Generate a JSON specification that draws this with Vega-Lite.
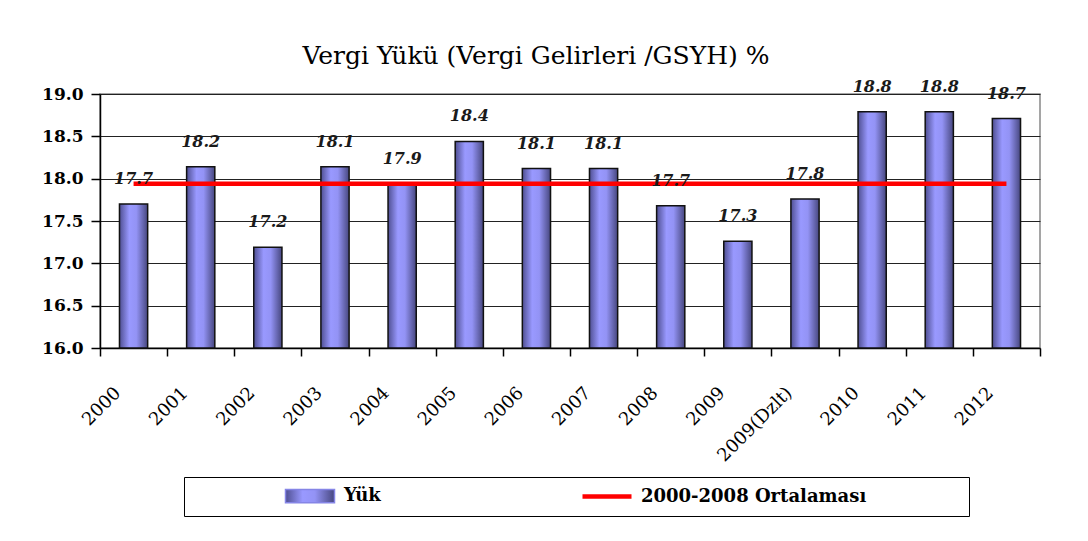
{
  "$schema": "https://vega.github.io/schema/vega-lite/v6.json",
  "width": 940,
  "height": 254,
  "autosize": "none",
  "padding": {"left": 100, "top": 94, "right": 48, "bottom": 193},
  "background": "white",
  "title": {
    "text": "Vergi Yükü (Vergi Gelirleri /GSYH) %",
    "font": "DejaVu Serif",
    "fontSize": 25,
    "fontWeight": "normal",
    "color": "#000000",
    "anchor": "middle",
    "dx": -34,
    "offset": 10
  },
  "data": {
    "values": [
      {"yil": "2000", "yuk": 17.70, "etiket": "17.7", "ort": 17.94},
      {"yil": "2001", "yuk": 18.14, "etiket": "18.2", "ort": 17.94},
      {"yil": "2002", "yuk": 17.19, "etiket": "17.2", "ort": 17.94},
      {"yil": "2003", "yuk": 18.14, "etiket": "18.1", "ort": 17.94},
      {"yil": "2004", "yuk": 17.94, "etiket": "17.9", "ort": 17.94},
      {"yil": "2005", "yuk": 18.44, "etiket": "18.4", "ort": 17.94},
      {"yil": "2006", "yuk": 18.12, "etiket": "18.1", "ort": 17.94},
      {"yil": "2007", "yuk": 18.12, "etiket": "18.1", "ort": 17.94},
      {"yil": "2008", "yuk": 17.68, "etiket": "17.7", "ort": 17.94},
      {"yil": "2009", "yuk": 17.26, "etiket": "17.3", "ort": 17.94},
      {"yil": "2009(Dzlt)", "yuk": 17.76, "etiket": "17.8", "ort": 17.94},
      {"yil": "2010", "yuk": 18.79, "etiket": "18.8", "ort": 17.94},
      {"yil": "2011", "yuk": 18.79, "etiket": "18.8", "ort": 17.94},
      {"yil": "2012", "yuk": 18.71, "etiket": "18.7", "ort": 17.94}
    ]
  },
  "encoding": {
    "x": {
      "field": "yil",
      "type": "nominal",
      "sort": null,
      "title": null,
      "scale": {"paddingInner": 0, "paddingOuter": 0},
      "axis": {
        "labelAngle": -45,
        "labelAlign": "right",
        "labelBaseline": "middle",
        "labelFont": "DejaVu Serif",
        "labelFontSize": 18,
        "labelColor": "#000000",
        "labelPadding": 34,
        "labelOffset": -16,
        "tickBand": "extent",
        "tickSize": 8,
        "tickColor": "#000000",
        "tickWidth": 1.5,
        "domainColor": "#000000",
        "domainWidth": 1.5,
        "grid": false
      }
    }
  },
  "layer": [
    {
      "mark": {
        "type": "bar",
        "width": {"band": 0.42},
        "stroke": "#111111",
        "strokeWidth": 1.5,
        "fill": {
          "gradient": "linear",
          "x1": 0, "y1": 0, "x2": 1, "y2": 0,
          "stops": [
            {"offset": 0, "color": "#4f4f92"},
            {"offset": 0.35, "color": "#9999ff"},
            {"offset": 0.6, "color": "#9393f5"},
            {"offset": 1, "color": "#47477f"}
          ]
        }
      },
      "encoding": {
        "y": {
          "field": "yuk",
          "type": "quantitative",
          "title": null,
          "scale": {"domain": [16, 19], "zero": false, "nice": false},
          "axis": {
            "values": [16, 16.5, 17, 17.5, 18, 18.5, 19],
            "format": ".1f",
            "labelFont": "DejaVu Serif",
            "labelFontWeight": "bold",
            "labelFontSize": 17,
            "labelColor": "#000000",
            "labelPadding": 8,
            "tickSize": 9,
            "tickColor": "#000000",
            "tickWidth": 1.5,
            "domainColor": "#000000",
            "domainWidth": 1.5,
            "grid": true,
            "gridColor": "#222222",
            "gridWidth": 1.2
          }
        },
        "y2": {"datum": 16}
      }
    },
    {
      "mark": {"type": "line", "strokeWidth": 4.5},
      "encoding": {
        "y": {"field": "ort", "type": "quantitative"},
        "color": {
          "datum": "2000-2008 Ortalaması",
          "type": "nominal",
          "scale": {"domain": ["Yük", "2000-2008 Ortalaması"], "range": ["#8585e6", "#ff0000"]},
          "legend": {
            "orient": "none",
            "legendX": 84,
            "legendY": 383,
            "direction": "horizontal",
            "title": " ",
            "titleOrient": "right",
            "titlePadding": 93,
            "titleFontSize": 10,
            "padding": 10,
            "strokeColor": "#000000",
            "fillColor": "#ffffff",
            "symbolOffset": 107,
            "symbolSize": 2401,
            "labelOffset": 25,
            "columnPadding": 110,
            "labelFont": "DejaVu Serif",
            "labelFontWeight": "bold",
            "labelFontSize": 18,
            "labelColor": "#000000",
            "labelLimit": 400,
            "encode": {
              "symbols": {
                "update": {
                  "shape": {"signal": "datum.value === 'Yük' ? 'M-1,-0.27H1V0.27H-1Z' : 'M-1,0H1'"},
                  "fill": {"signal": "datum.value === 'Yük' ? {gradient: 'linear', x1: 0, y1: 0, x2: 1, y2: 0, stops: [{offset: 0, color: '#4f4f92'}, {offset: 0.35, color: '#9999ff'}, {offset: 0.6, color: '#9393f5'}, {offset: 1, color: '#47477f'}]} : 'transparent'"},
                  "stroke": {"signal": "datum.value === 'Yük' ? '#111111' : '#ff0000'"},
                  "strokeWidth": {"signal": "datum.value === 'Yük' ? 1.5 : 4.5"},
                  "opacity": {"value": 1}
                }
              }
            }
          }
        }
      }
    },
    {
      "mark": {
        "type": "text",
        "font": "DejaVu Serif",
        "fontStyle": "italic",
        "fontWeight": "bold",
        "fontSize": 16,
        "color": "#1a1a1a",
        "baseline": "alphabetic",
        "dy": -20
      },
      "encoding": {
        "y": {"field": "yuk", "type": "quantitative"},
        "text": {"field": "etiket"}
      }
    }
  ],
  "config": {
    "view": {"stroke": "#888888", "strokeWidth": 1.5}
  }
}
